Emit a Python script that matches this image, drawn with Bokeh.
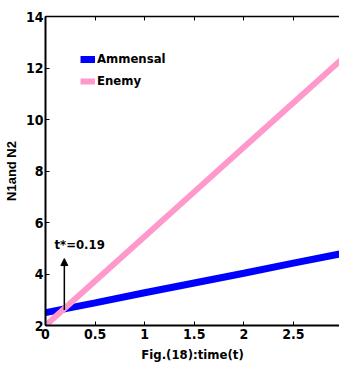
from bokeh.plotting import figure
from bokeh.models import (Range1d, LinearAxis, Arrow, NormalHead, Label, Legend, LegendItem,
                          FixedTicker, CustomLabelingPolicy)
from bokeh.embed import file_html
from bokeh.resources import INLINE

t = [0, 0.5, 1.0, 1.5, 2.0, 2.5, 3.0]
ammensal = [2.5, 2.88, 3.27, 3.65, 4.03, 4.42, 4.8]
enemy = [2.0, 3.73, 5.46, 7.19, 8.92, 10.65, 12.38]
x_ticks = [0, 0.5, 1, 1.5, 2, 2.5]
y_ticks = [2, 4, 6, 8, 10, 12, 14]
t_star = 0.19
arrow_y = [2.6, 4.6]
FONT = "DejaVu Sans Condensed"

p = figure(width=339, height=374, output_backend="svg", toolbar_location=None,
           x_range=Range1d(0, 2.965), y_range=Range1d(2, 14),
           min_border_left=44, min_border_right=0, min_border_top=16, min_border_bottom=49)
p.outline_line_color = None
p.grid.grid_line_color = None
p.background_fill_color = "white"
p.border_fill_color = "white"

l1 = p.line(t, ammensal, line_color="#0000FF", line_width=7)
l2 = p.line(t, enemy, line_color="#FF99CC", line_width=6)

for ax in [p.xaxis[0], p.yaxis[0]]:
    ax.axis_line_width = 2
    ax.axis_line_color = "black"
    ax.major_tick_line_color = "black"
    ax.major_tick_in = 4
    ax.major_tick_out = 0
    ax.minor_tick_line_color = None
    ax.major_label_text_font = FONT
    ax.major_label_text_font_style = "bold"
    ax.major_label_text_font_size = "14px"
    ax.major_label_text_color = "black"
    ax.axis_label_text_font_style = "bold"
    ax.axis_label_text_color = "black"

p.xaxis.ticker = FixedTicker(ticks=x_ticks)
p.yaxis.ticker = FixedTicker(ticks=y_ticks)
p.xaxis.major_label_standoff = 3
p.yaxis.major_label_standoff = 2
p.xaxis.axis_label = "Fig.(18):time(t)"
p.xaxis.axis_label_text_font = FONT
p.xaxis.axis_label_text_font_size = "13px"
p.xaxis.axis_label_standoff = 5
p.yaxis.axis_label = "N1and N2"
p.yaxis.axis_label_text_font = "Liberation Sans"
p.yaxis.axis_label_text_font_size = "13px"
p.yaxis.axis_label_standoff = 4

top = LinearAxis(ticker=FixedTicker(ticks=x_ticks),
                 major_label_policy=CustomLabelingPolicy(code="for (const i of indices) { indices.unset(i) }\nreturn indices"),
                 major_tick_in=4, major_tick_out=0, minor_tick_line_color=None,
                 axis_line_color="black", major_tick_line_color="black",
                 axis_line_width=1.5, major_label_standoff=0)
p.add_layout(top, "above")

p.add_layout(Arrow(end=NormalHead(size=7, fill_color="black", line_color="black"),
                   x_start=t_star, y_start=arrow_y[0], x_end=t_star, y_end=arrow_y[1],
                   line_width=1.5, line_color="black"))
p.add_layout(Label(x=0.09, y=4.85, text="t*=0.19", text_font=FONT, text_font_style="bold",
                   text_font_size="13px", text_color="black"))

legend = Legend(items=[LegendItem(label="Ammensal", renderers=[l1]),
                       LegendItem(label="Enemy", renderers=[l2])],
                border_line_color=None, background_fill_alpha=0,
                label_text_font=FONT, label_text_font_style="bold", label_text_font_size="13px",
                label_text_color="black",
                glyph_width=15, glyph_height=14, spacing=7, label_standoff=2, padding=10)
legend.location = "top_left"
legend.margin = 35
p.add_layout(legend)

open("out.html", "w").write(file_html(p, INLINE))
